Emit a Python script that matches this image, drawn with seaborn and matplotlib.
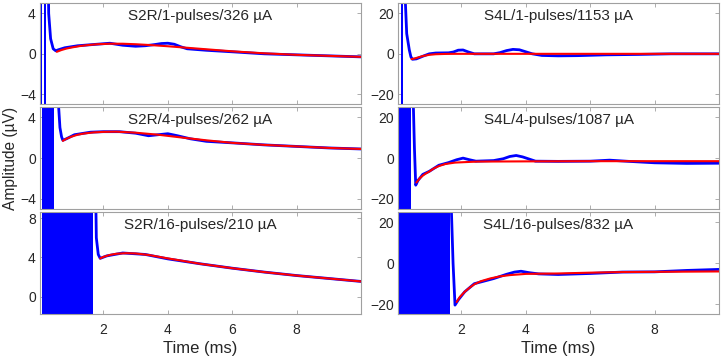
import numpy as np
import pandas as pd
import matplotlib
matplotlib.use("Agg")
import matplotlib.pyplot as plt
import seaborn as sns

# ---- data (time in ms, amplitude in uV) ----
titles = ["S2R/1-pulses/326 µA", "S4L/1-pulses/1153 µA",
          "S2R/4-pulses/262 µA", "S4L/4-pulses/1087 µA",
          "S2R/16-pulses/210 µA", "S4L/16-pulses/832 µA"]

# stimulus artifact (solid blue) spans
art_tl = [(0.05, 0.09), (0.15, 0.21)]
art_tr = [(0.0, 0.05), (0.12, 0.2)]
art_ml = [(0.03, 0.06), (0.08, 0.47)]
art_mr = [(0.0, 0.04), (0.07, 0.43)]
art_bl = [(0.03, 0.06), (0.08, 1.67)]
art_br = [(0.0, 0.04), (0.07, 1.64)]

# recorded response (blue)
tl_bt = [0.25, 0.3, 0.36, 0.44, 0.52, 0.6, 0.8, 1.2, 1.6, 2.2, 2.6, 3.0, 3.3, 3.6, 3.8, 4.0, 4.2, 4.4, 4.6, 5.2, 6.0, 7.0, 8.0, 9.0, 10.0]
tl_bv = [20, 4, 1.5, 0.5, 0.3, 0.4, 0.6, 0.8, 0.9, 1.05, 0.85, 0.75, 0.8, 0.92, 1.02, 1.05, 0.95, 0.7, 0.5, 0.35, 0.2, 0.0, -0.1, -0.2, -0.3]
tr_bt = [0.22, 0.3, 0.38, 0.43, 0.48, 0.6, 0.8, 1.0, 1.2, 1.6, 1.75, 1.9, 2.05, 2.2, 2.4, 3.0, 3.2, 3.4, 3.6, 3.8, 4.0, 4.2, 4.5, 5.0, 5.6, 6.5, 7.5, 8.5, 10.0]
tr_bv = [40, 10, 2, -1.5, -2.7, -2.5, -1.2, 0, 0.4, 0.5, 0.9, 1.8, 1.9, 1.0, 0.0, 0.0, 0.6, 1.6, 2.2, 2.0, 1.0, 0, -0.8, -1.0, -0.9, -0.5, -0.3, 0, 0]
ml_bt = [0.57, 0.61, 0.65, 0.7, 0.74, 0.85, 1.1, 1.6, 2.0, 2.5, 3.0, 3.4, 3.7, 4.0, 4.3, 4.7, 5.2, 6.0, 7.0, 8.0, 9.0, 10.0]
ml_bv = [20, 5, 3.0, 2.1, 1.75, 1.9, 2.3, 2.55, 2.6, 2.6, 2.45, 2.2, 2.3, 2.4, 2.2, 1.9, 1.65, 1.5, 1.3, 1.15, 1.0, 0.9]
mr_bt = [0.5, 0.54, 0.58, 0.65, 0.8, 1.0, 1.3, 1.6, 1.85, 2.05, 2.25, 2.45, 3.0, 3.3, 3.5, 3.7, 3.9, 4.3, 5.0, 6.0, 6.6, 7.2, 8.0, 9.0, 10.0]
mr_bv = [30, 5, -13.3, -11, -8, -6.5, -3.5, -2.2, -0.8, 0, -0.8, -1.5, -1.2, -0.3, 0.8, 1.3, 0.6, -1.5, -1.6, -1.5, -1.0, -1.6, -2.3, -2.6, -2.5]
bl_bt = [1.72, 1.78, 1.84, 1.9, 2.1, 2.6, 3.3, 4.0, 5.0, 6.0, 7.0, 8.0, 9.0, 10.0]
bl_bv = [20, 6, 4.3, 3.9, 4.15, 4.45, 4.3, 3.85, 3.35, 2.9, 2.5, 2.15, 1.85, 1.55]
br_bt = [1.68, 1.74, 1.8, 1.9, 2.1, 2.4, 3.0, 3.4, 3.65, 3.85, 4.1, 4.4, 5.0, 6.0, 7.0, 8.0, 9.0, 10.0]
br_bv = [30, 0, -20.5, -18, -14, -10, -7.5, -5.4, -4.3, -3.9, -4.6, -5.2, -5.5, -5, -4.3, -4.2, -3.5, -3.0]

# fitted response (red)
tl_rt = [0.55, 0.7, 0.85, 1.0, 1.25, 1.5, 1.8, 2.2, 2.6, 3.0, 3.5, 4.0, 5.0, 6.0, 7.0, 8.0, 9.0, 10.0]
tl_rv = [0.2, 0.38, 0.52, 0.62, 0.76, 0.86, 0.95, 1.0, 1.0, 0.95, 0.86, 0.75, 0.5, 0.25, 0.05, -0.1, -0.2, -0.3]
tr_rt = [0.45, 0.55, 0.65, 0.8, 1.0, 1.2, 1.5, 1.8, 3.0, 5.0, 7.0, 10.0]
tr_rv = [-2.6, -2.3, -1.8, -1.1, -0.5, -0.2, -0.05, 0, 0, 0, 0, 0]
ml_rt = [0.74, 0.85, 1.0, 1.2, 1.4, 1.7, 2.0, 2.4, 3.0, 3.7, 4.5, 5.2, 6.0, 7.0, 8.0, 9.0, 10.0]
ml_rv = [1.7, 1.9, 2.1, 2.3, 2.42, 2.53, 2.58, 2.6, 2.5, 2.3, 2.0, 1.75, 1.5, 1.3, 1.15, 1.0, 0.9]
mr_rt = [0.6, 0.7, 0.8, 0.9, 1.0, 1.15, 1.3, 1.5, 1.8, 2.2, 2.5, 4.0, 6.0, 8.0, 10.0]
mr_rv = [-12, -10, -8.6, -7.5, -6.6, -5.0, -3.9, -2.9, -2.2, -1.9, -1.7, -1.6, -1.5, -1.5, -1.5]
bl_rt = [1.9, 2.0, 2.2, 2.4, 2.7, 3.0, 3.4, 4.0, 5.0, 6.0, 7.0, 8.0, 9.0, 10.0]
bl_rv = [3.9, 4.05, 4.25, 4.37, 4.43, 4.4, 4.25, 3.9, 3.35, 2.9, 2.5, 2.15, 1.85, 1.55]
br_rt = [1.85, 1.95, 2.1, 2.25, 2.4, 2.6, 2.9, 3.2, 3.5, 4.0, 5.0, 6.0, 7.0, 8.0, 9.0, 10.0]
br_rv = [-19, -16.5, -14, -12, -10.3, -8.8, -7.4, -6.4, -5.8, -5.2, -5.0, -4.6, -4.3, -4.2, -4.1, -4.0]

ylims = [(-5, 5), (-25, 25), (-5, 5), (-25, 25), (-1.8, 8.6), (-25, 25)]
yticks = [[-4, 0, 4], [-20, 0, 20], [-4, 0, 4], [-20, 0, 20], [0, 4, 8], [-20, 0, 20]]
xticks = [2, 4, 6, 8]

panels = [
    (tl_bt, tl_bv, tl_rt, tl_rv, art_tl),
    (tr_bt, tr_bv, tr_rt, tr_rv, art_tr),
    (ml_bt, ml_bv, ml_rt, ml_rv, art_ml),
    (mr_bt, mr_bv, mr_rt, mr_rv, art_mr),
    (bl_bt, bl_bv, bl_rt, bl_rv, art_bl),
    (br_bt, br_bv, br_rt, br_rv, art_br),
]

sns.set_theme(style="white")
plt.rcParams['font.family'] = ['Liberation Sans', 'DejaVu Sans']

fig = plt.figure(figsize=(7.23, 3.62), dpi=100)

lefts = [0.0553, 0.5505]
bottoms = [0.7118, 0.4227, 0.1318]
heights = [0.279, 0.281, 0.2818]
w = 0.444
grey = '#262626'

for i, (bt, bv, rt, rv, art) in enumerate(panels):
    r, c = divmod(i, 2)
    ax = fig.add_axes([lefts[c], bottoms[r], w, heights[r]])
    for a0, a1 in art:
        ax.axvspan(a0, a1, color='#0000ff', lw=0, zorder=1)
    blue = pd.DataFrame({'t': bt, 'v': bv})
    red = pd.DataFrame({'t': rt, 'v': rv})
    sns.lineplot(data=blue, x='t', y='v', ax=ax, color='#0000ff', lw=2.0,
                 estimator=None, zorder=2)
    sns.lineplot(data=red, x='t', y='v', ax=ax, color='#ff0000', lw=1.5,
                 estimator=None, zorder=3)
    ax.set_xlim(0.03, 10)
    ax.set_ylim(*ylims[i])
    ax.set_xticks(xticks)
    ax.set_yticks(yticks[i])
    ax.set_xlabel('')
    ax.set_ylabel('')
    ax.tick_params(direction='in', length=3, width=0.6, color='#a0a0a0',
                   top=True, right=True, bottom=True, left=True,
                   labelsize=10, labelcolor=grey, pad=3)
    if r < 2:
        ax.tick_params(labelbottom=False)
    else:
        ax.tick_params(axis='x', pad=6)
        ax.set_xlabel('Time (ms)', fontsize=12, color=grey, labelpad=3)
    for s in ax.spines.values():
        s.set_color('#a0a0a0')
        s.set_linewidth(0.8)
        s.set_visible(True)
    ax.text(0.5, 0.945, titles[i], transform=ax.transAxes, ha='center',
            va='top', fontsize=11, color=grey)

fig.text(0.014, 1 - 158 / 362, 'Amplitude (µV)', rotation=90, ha='center',
         va='center', fontsize=11.2, color=grey)

fig.savefig('out.png', dpi=100)
